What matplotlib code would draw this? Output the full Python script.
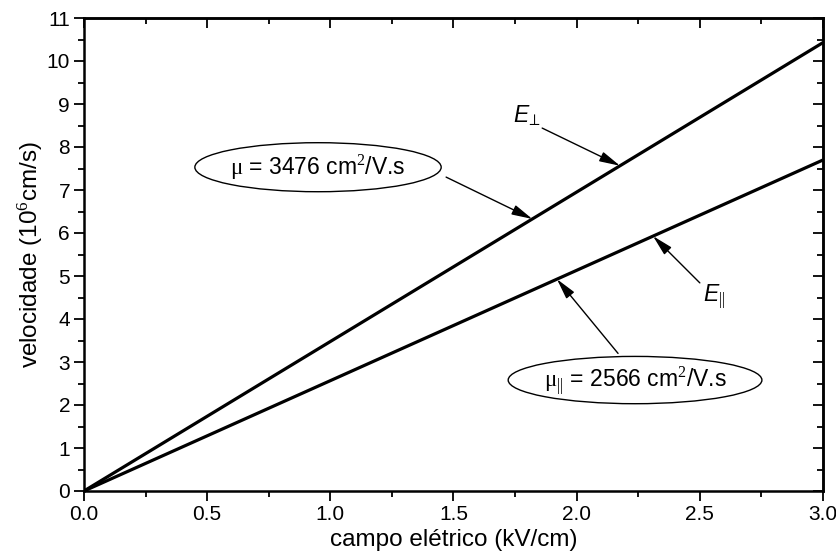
import numpy as np
import matplotlib
matplotlib.use("Agg")
import matplotlib.pyplot as plt
from matplotlib.patches import Ellipse
from matplotlib.ticker import MultipleLocator
from matplotlib import font_manager

# Measured mobilities (cm^2/V.s) and field range (kV/cm)
mobility_labels = ["perp", "par"]
mobility_values = [3476, 2566]
field_range = [0.0, 3.0]
x_tick_labels = ["0.0", "0.5", "1.0", "1.5", "2.0", "2.5", "3.0"]
y_tick_labels = [str(v) for v in range(0, 12)]

names = {f.name for f in font_manager.fontManager.ttflist}
sans = "Liberation Sans" if "Liberation Sans" in names else "DejaVu Sans"

plt.rcParams["font.family"] = [sans, "DejaVu Sans"]
plt.rcParams["mathtext.fontset"] = "custom"
plt.rcParams["mathtext.rm"] = "Liberation Serif"
plt.rcParams["mathtext.it"] = sans
plt.rcParams["mathtext.sf"] = sans + ":italic"

fig = plt.figure(figsize=(8.37, 5.53), dpi=100)
ax = fig.add_axes([84 / 837, 1 - 491 / 553, (823 - 84) / 837, (491 - 18) / 553])

E = np.linspace(field_range[0], field_range[1], 200)
# v = mu * E ; E in kV/cm -> V/cm (x1e3), v in 1e6 cm/s (/1e6)
curves = {}
for name, mu in zip(mobility_labels, mobility_values):
    v = mu * E * 1e3 / 1e6
    curves[name] = mu
    ax.plot(E, v, color="black", lw=2.3, solid_capstyle="butt")

def on_line(name, x):
    return curves[name] * x * 1e3 / 1e6

ax.set_xlim(0, 3)
ax.set_ylim(0, 11)
ax.set_xticks(np.arange(0, 3.01, 0.5))
ax.set_xticklabels(x_tick_labels)
ax.set_yticks(range(0, 12))
ax.set_yticklabels(y_tick_labels)
ax.xaxis.set_minor_locator(MultipleLocator(0.25))
ax.yaxis.set_minor_locator(MultipleLocator(0.5))
ax.tick_params(which="major", direction="out", length=7, width=1.3, pad=3, labelsize=15)
ax.tick_params(which="minor", direction="out", length=4, width=1.3)
for s in ax.spines.values():
    s.set_linewidth(1.8)

# inward ticks on the top and right frame
top = ax.secondary_xaxis("top")
top.xaxis.set_major_locator(MultipleLocator(0.5))
top.xaxis.set_minor_locator(MultipleLocator(0.25))
top.tick_params(which="major", direction="in", length=7, width=1.3, labeltop=False)
top.tick_params(which="minor", direction="in", length=4, width=1.3)
top.spines["top"].set_linewidth(1.8)
right = ax.secondary_yaxis("right")
right.yaxis.set_major_locator(MultipleLocator(1))
right.yaxis.set_minor_locator(MultipleLocator(0.5))
right.tick_params(which="major", direction="in", length=7, width=1.3, labelright=False)
right.tick_params(which="minor", direction="in", length=4, width=1.3)
right.spines["right"].set_linewidth(1.8)

ax.set_xlabel("campo elétrico (kV/cm)", fontsize=17.5, labelpad=4)
ax.set_ylabel("velocidade (10$^6$cm/s)", fontsize=17.5, labelpad=1)

arrow_kw = dict(arrowstyle="-|>,head_length=0.9,head_width=0.22", color="black",
                lw=1.0, shrinkA=0, shrinkB=0, mutation_scale=14)

# mobility callouts
ax.add_patch(Ellipse((0.95, 7.53), 1.0, 1.14, fill=False, lw=1.0, color="black"))
ax.text(0.95, 7.53, r"$\mathrm{\mu}$ = 3476 cm$^2$/V.s", ha="center", va="center", fontsize=16.5)
ax.annotate("", xy=(1.82, on_line("perp", 1.82)), xytext=(1.47, 7.30), arrowprops=arrow_kw)

ax.add_patch(Ellipse((2.237, 2.58), 1.03, 1.10, fill=False, lw=1.0, color="black"))
ax.text(2.237, 2.58, r"$\mathrm{\mu}_{||}$ = 2566 cm$^2$/V.s", ha="center", va="center", fontsize=16.5)
ax.annotate("", xy=(1.92, on_line("par", 1.92)), xytext=(2.168, 3.20), arrowprops=arrow_kw)

# field orientation labels
ax.text(1.80, 8.72, r"$\mathsf{E}_{\!\perp}$", ha="center", va="center", fontsize=16.5)
ax.annotate("", xy=(2.176, on_line("perp", 2.176)), xytext=(1.86, 8.44), arrowprops=arrow_kw)
ax.text(2.56, 4.50, r"$\mathsf{E}_{||}$", ha="center", va="center", fontsize=16.5)
ax.annotate("", xy=(2.31, on_line("par", 2.31)), xytext=(2.50, 4.84), arrowprops=arrow_kw)

fig.savefig("out.png", dpi=100)
